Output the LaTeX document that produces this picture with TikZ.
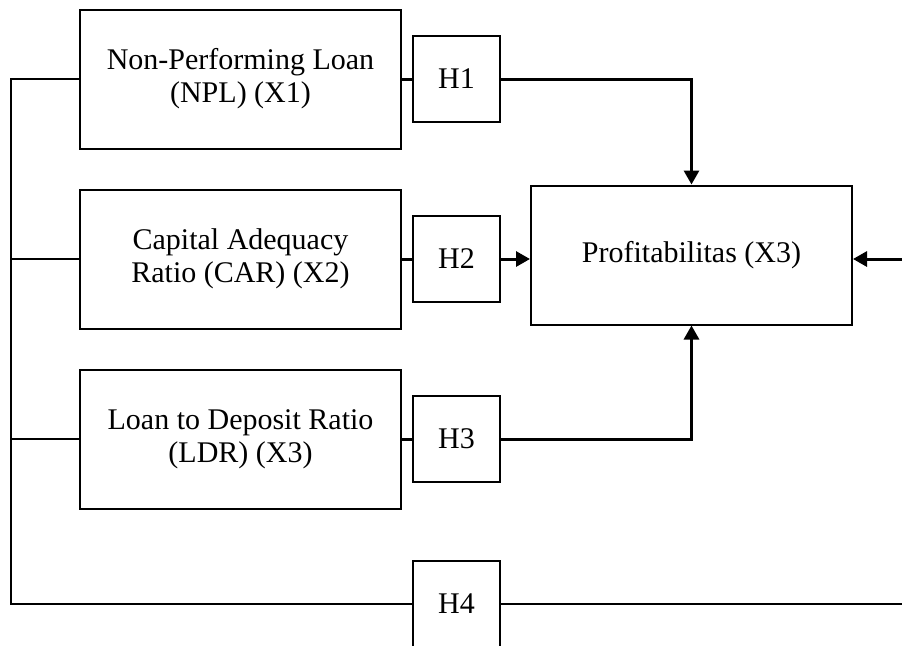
\documentclass[tikz,border=0pt]{standalone}
\usepackage{fontspec}
\setmainfont{Liberation Serif}
\usepackage{tikz}
\usetikzlibrary{arrows.meta, positioning, calc}
\tikzset{
  %% Variable box
  varbox/.style={
    rectangle, draw=black, line width=1pt,
    minimum width=160.5pt, minimum height=69.5pt,
    align=center, inner sep=2pt,
    font=\fontsize{15}{16.5}\selectfont
  },
  %% Hypothesis box
  hbox/.style={
    rectangle, draw=black, line width=1pt, fill=white,
    minimum width=43.5pt, minimum height=43pt,
    align=center, inner sep=1pt,
    font=\fontsize{15}{16.5}\selectfont
  },
  %% Thick arrow
  arr/.style={-{Triangle[length=7pt,width=7.5pt]},
              draw=black, line width=1.5pt},
  stub/.style={draw=black, line width=1.5pt},
  thinln/.style={draw=black, line width=0.75pt},
}
\begin{document}
\begin{tikzpicture}[x=0.5pt, y=-0.5pt]

  \useasboundingbox (0,0) rectangle (902,645);

  %% Independent variables
  \node[varbox] (npl) at (240.5,79)  {Non-Performing Loan\\(NPL) (X1)};
  \node[varbox] (car) at (240.5,259) {Capital Adequacy\\Ratio (CAR) (X2)};
  \node[varbox] (ldr) at (240.5,439) {Loan to Deposit Ratio\\(LDR) (X3)};

  %% Dependent variable
  \node[varbox] (prof) at (691.5,255) {Profitabilitas (X3)};

  %% Hypotheses
  \node[hbox] (h1) at (456.5,79)  {H1};
  \node[hbox] (h2) at (456.5,259) {H2};
  \node[hbox] (h3) at (456.5,439) {H3};
  \node[hbox] (h4) at (456.5,604) {H4};

  %% Left bus
  \coordinate (busT) at (11,79);
  \coordinate (busB) at (11,604);
  \draw[thinln] (npl.west) -- (busT) -- (busB) -- (h4.west);
  \draw[thinln] (car.west) -- (car.west -| busT);
  \draw[thinln] (ldr.west) -- (ldr.west -| busT);

  %% Box to hypothesis
  \draw[stub] (npl.east) -- (h1.west);
  \draw[stub] (car.east) -- (h2.west);
  \draw[stub] (ldr.east) -- (h3.west);

  %% Hypothesis to profitability
  \draw[arr] (h1.east) -| (prof.north);
  \draw[arr] (h2.east) -- (h2.east -| prof.west);
  \draw[arr] (h3.east) -| (prof.south);

  %% H4 path (leaves the frame at the right)
  \coordinate (rtB) at (925,604);
  \coordinate (rtM) at (925,259);
  \draw[thinln] (h4.east) -- (rtB);
  \draw[arr] (rtM) -- (rtM -| prof.east);

\end{tikzpicture}
\end{document}
